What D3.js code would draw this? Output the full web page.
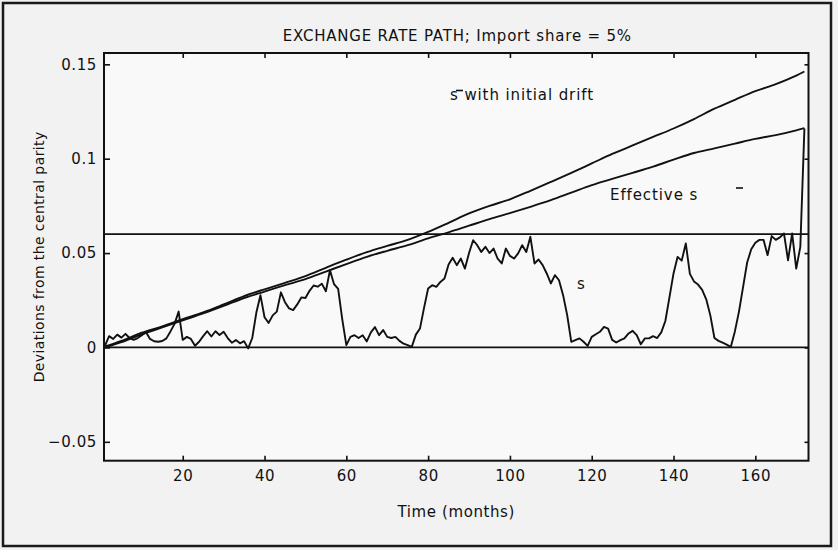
<!DOCTYPE html>
<html>
<head>
<meta charset="utf-8">
<script src="https://cdn.jsdelivr.net/npm/d3@7/dist/d3.min.js"></script>
<style>
  body { margin: 0; background: #f2f2f2; }
  svg text { font-family: 'DejaVu Sans', sans-serif; fill: #111; }
</style>
</head>
<body>
<div id="chart"></div>
<script>
// monthly path of s inside the band (months 1..172)
const sMonths = d3.range(1, 173);
const sValues = [
  0.0010, 0.0060, 0.0045, 0.0068, 0.0052, 0.0072, 0.0050, 0.0040, 0.0050, 0.0065,
  0.0082, 0.0045, 0.0033, 0.0030, 0.0034, 0.0048, 0.0085, 0.0125, 0.0190, 0.0040,
  0.0056, 0.0045, 0.0009, 0.0030, 0.0060, 0.0086, 0.0058, 0.0086, 0.0066, 0.0083,
  0.0050, 0.0025, 0.0039, 0.0022, 0.0033, -0.0005, 0.0050, 0.0185, 0.0277, 0.0160,
  0.0130, 0.0170, 0.0190, 0.0292, 0.0240, 0.0207, 0.0198, 0.0228, 0.0265, 0.0262,
  0.0300, 0.0328, 0.0322, 0.0338, 0.0298, 0.0409, 0.0335, 0.0310, 0.0150, 0.0012,
  0.0056, 0.0065, 0.0050, 0.0065, 0.0032, 0.0080, 0.0108, 0.0065, 0.0092, 0.0056,
  0.0050, 0.0056, 0.0035, 0.0020, 0.0012, 0.0003, 0.0068, 0.0100, 0.0210, 0.0312,
  0.0330, 0.0321, 0.0347, 0.0365, 0.0440, 0.0475, 0.0436, 0.0471, 0.0418, 0.0500,
  0.0568, 0.0542, 0.0506, 0.0533, 0.0500, 0.0524, 0.0470, 0.0445, 0.0524, 0.0485,
  0.0471, 0.0498, 0.0542, 0.0506, 0.0586, 0.0445, 0.0466, 0.0436, 0.0392, 0.0339,
  0.0383, 0.0356, 0.0277, 0.0171, 0.0030, 0.0039, 0.0048, 0.0030, 0.0008, 0.0056,
  0.0070, 0.0083, 0.0109, 0.0100, 0.0040, 0.0026, 0.0039, 0.0048, 0.0074, 0.0088,
  0.0065, 0.0017, 0.0048, 0.0048, 0.0060, 0.0050, 0.0080, 0.0140, 0.0265, 0.0392,
  0.0480, 0.0460, 0.0551, 0.0390, 0.0350, 0.0333, 0.0305, 0.0255, 0.0170, 0.0050,
  0.0035, 0.0025, 0.0015, 0.0003, 0.0085, 0.0190, 0.0320, 0.0450, 0.0520, 0.0555,
  0.0570, 0.0570, 0.0489, 0.0590, 0.0570, 0.0583, 0.0604, 0.0462, 0.0604, 0.0418,
  0.0533, 0.1160
];

// the two trending paths
const driftMonths = [1, 5, 10, 15, 20, 25, 30, 35, 40, 45, 50, 55, 60, 65, 70, 75, 80, 85,
  90, 95, 100, 105, 110, 115, 120, 125, 130, 135, 140, 145, 150, 155, 160, 165, 170, 172];
const driftValues = [0.0005, 0.0035, 0.0078, 0.0112, 0.0150, 0.0186, 0.0228, 0.0272, 0.0308,
  0.0342, 0.0378, 0.0422, 0.0465, 0.0505, 0.0538, 0.0570, 0.0612, 0.0660, 0.0710, 0.0750,
  0.0785, 0.0830, 0.0877, 0.0925, 0.0975, 0.1025, 0.1070, 0.1115, 0.1160, 0.1210, 0.1265,
  0.1312, 0.1358, 0.1395, 0.1440, 0.1462];
const effectiveValues = [0.0000, 0.0028, 0.0070, 0.0106, 0.0144, 0.0180, 0.0220, 0.0262,
  0.0296, 0.0330, 0.0362, 0.0402, 0.0442, 0.0480, 0.0512, 0.0542, 0.0578, 0.0610, 0.0645,
  0.0680, 0.0712, 0.0745, 0.0780, 0.0820, 0.0860, 0.0893, 0.0925, 0.0958, 0.0995, 0.1030,
  0.1055, 0.1080, 0.1105, 0.1125, 0.1150, 0.1162];

const bandLevels = [0, 0.06];
const xTicks = [20, 40, 60, 80, 100, 120, 140, 160];
const yTicks = [-0.05, 0, 0.05, 0.1, 0.15];
const yTickLabels = ['\u22120.05', '0', '0.05', '0.1', '0.15'];

const width = 838, height = 550;
const plotLeft = 104, plotRight = 808.5, plotTop = 53, plotBottom = 460.7;

const svg = d3
  .select('#chart')
  .append('svg')
  .attr('width', width)
  .attr('height', height);

svg.append('rect')
  .attr('x', 3).attr('y', 3)
  .attr('width', 828).attr('height', 543)
  .attr('fill', '#f2f2f2')
  .attr('stroke', '#1a1a1a')
  .attr('stroke-width', 2.5);

const x = d3.scaleLinear().domain([0.75, 173]).range([plotLeft, plotRight]);
const y = d3.scaleLinear().domain([-0.06, 0.156]).range([plotBottom, plotTop]);

svg.append('rect')
  .attr('x', plotLeft).attr('y', plotTop)
  .attr('width', plotRight - plotLeft).attr('height', plotBottom - plotTop)
  .attr('fill', '#f9f9f9');

// axes, ticks pointing into the frame
const axisStyle = (g) => {
  g.select('.domain').remove();
  g.selectAll('line').attr('stroke', '#111').attr('stroke-width', 1.6);
  g.selectAll('text')
    .attr('font-family', 'DejaVu Sans, sans-serif')
    .attr('font-size', 15)
    .attr('letter-spacing', 0.6)
    .attr('fill', '#111');
};

svg.append('g')
  .attr('transform', `translate(${plotLeft},0)`)
  .call(d3.axisLeft(y).tickValues(yTicks).tickSize(-6).tickPadding(7)
    .tickFormat((d, i) => yTickLabels[i]))
  .call(axisStyle);

svg.append('g')
  .attr('transform', `translate(${plotRight},0)`)
  .call(d3.axisRight(y).tickValues(yTicks).tickSize(-4).tickFormat(''))
  .call(axisStyle);

svg.append('g')
  .attr('transform', `translate(0,${plotBottom})`)
  .call(d3.axisBottom(x).tickValues(xTicks).tickSize(-5).tickPadding(10)
    .tickFormat(d3.format('d')))
  .call(axisStyle);

svg.append('g')
  .attr('transform', `translate(0,${plotTop})`)
  .call(d3.axisTop(x).tickValues(xTicks).tickSize(-5).tickFormat(''))
  .call(axisStyle);

// band limits
svg.selectAll('.band')
  .data(bandLevels)
  .enter()
  .append('line')
  .attr('x1', plotLeft).attr('x2', plotRight)
  .attr('y1', (d) => y(d)).attr('y2', (d) => y(d))
  .attr('stroke', '#111')
  .attr('stroke-width', 1.8);

const smoothLine = d3.line().curve(d3.curveMonotoneX).x((d) => x(d[0])).y((d) => y(d[1]));
const line = d3.line().x((d) => x(d[0])).y((d) => y(d[1]));

const paths = [
  { pts: d3.zip(driftMonths, driftValues), gen: smoothLine },
  { pts: d3.zip(driftMonths, effectiveValues), gen: smoothLine },
  { pts: d3.zip(sMonths, sValues), gen: line },
];

svg.selectAll('.series')
  .data(paths)
  .enter()
  .append('path')
  .attr('d', (d) => d.gen(d.pts))
  .attr('fill', 'none')
  .attr('stroke', '#111')
  .attr('stroke-width', 1.9)
  .attr('stroke-linejoin', 'round');

svg.append('rect')
  .attr('x', plotLeft).attr('y', plotTop)
  .attr('width', plotRight - plotLeft).attr('height', plotBottom - plotTop)
  .attr('fill', 'none')
  .attr('stroke', '#111')
  .attr('stroke-width', 2);

// texts
svg.append('text')
  .attr('x', (plotLeft + plotRight) / 2 + 1).attr('y', 41)
  .attr('text-anchor', 'middle')
  .attr('font-size', 15)
  .attr('letter-spacing', 0.8)
  .text('EXCHANGE RATE PATH; Import share = 5%');

svg.append('text')
  .attr('x', (plotLeft + plotRight) / 2).attr('y', 517)
  .attr('text-anchor', 'middle')
  .attr('font-size', 15)
  .attr('letter-spacing', 0.6)
  .text('Time (months)');

svg.append('text')
  .attr('transform', `translate(44,${(plotTop + plotBottom) / 2}) rotate(-90)`)
  .attr('text-anchor', 'middle')
  .attr('font-size', 14)
  .attr('letter-spacing', 0.4)
  .text('Deviations from the central parity');

const notes = [
  { text: 's with initial drift', x: 450, y: 100 },
  { text: 'Effective s', x: 610, y: 200 },
  { text: 's', x: 577, y: 289 },
];
svg.selectAll('.note')
  .data(notes)
  .enter()
  .append('text')
  .attr('x', (d) => d.x).attr('y', (d) => d.y)
  .attr('font-size', 15)
  .attr('letter-spacing', 0.9)
  .text((d) => d.text);

// the bars of s-bar, drawn a little off as in the print
svg.append('line')
  .attr('x1', 456).attr('x2', 463).attr('y1', 90.5).attr('y2', 90.5)
  .attr('stroke', '#111').attr('stroke-width', 1.6);
svg.append('line')
  .attr('x1', 736).attr('x2', 743).attr('y1', 188).attr('y2', 188)
  .attr('stroke', '#111').attr('stroke-width', 1.6);
</script>
</body>
</html>
